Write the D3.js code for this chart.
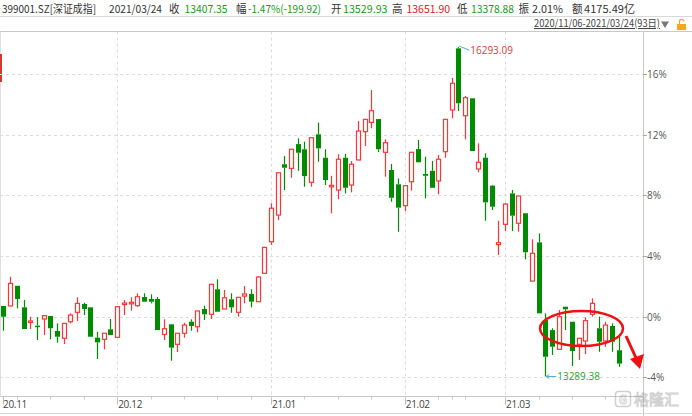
<!DOCTYPE html>
<html><head><meta charset="utf-8">
<script src="https://cdn.jsdelivr.net/npm/d3@7/dist/d3.min.js"></script>
<style>
html,body{margin:0;padding:0;background:#fff;}
svg{display:block;font-family:"Noto Sans CJK SC","Microsoft YaHei",sans-serif;}
</style></head>
<body><div id="chart"></div>
<script>
// ---- data: percent change vs base (13835) ----
const monthLabels = ["20.11","20.12","21.01","21.02","21.03"];
const monthStartIdx = [0,17,40,60,75];
const weekStartIdx = [2,7,12,17,22,27,32,37,40,45,50,55,60,65,67,69,75,80,85,90];
const yTicks = [16,12,8,4,0,-4];
const open  = [0.71,0.71,2.04,0.62,-0.33,-0.59,-0.15,0.05,-0.94,-1.42,-0.33,0.29,0.84,0.62,-1.38,-1.49,-0.83,-1.36,0.86,0.90,0.73,1.30,1.17,1.17,-1.16,-0.50,-1.82,-1.09,-0.33,-0.66,0.51,0.16,1.81,0.51,1.15,0.29,1.36,1.50,0.99,2.86,4.94,6.70,10.05,9.78,11.38,11.04,8.86,12.02,10.48,8.62,8.35,10.48,8.68,10.33,12.20,12.81,13.03,10.84,9.67,8.73,7.32,8.90,11.05,9.41,9.62,8.95,10.88,13.63,17.69,13.25,14.40,9.74,10.48,8.64,4.75,6.09,8.13,6.16,6.82,2.35,4.90,-0.22,-0.88,-2.15,0.66,-0.33,-1.82,-1.60,0.16,-0.76,-1.60,-0.61,-2.21];
const close = [0,2.20,1.17,-0.81,-0.28,-0.63,0.07,-0.76,-1.32,-0.44,0.11,0.88,0.51,-1.32,-1.69,-1.09,-1.21,0.66,0.90,0.95,1.32,0.99,0.99,-0.88,-0.79,-2.04,-1.09,-0.55,-0.61,0.38,0.16,2.14,0.33,1.25,0.62,1.28,1.50,0.99,2.62,4.57,7.15,9.49,9.82,11.04,10.81,9.27,11.80,11.10,9.01,8.66,10.38,8.50,10.05,12.24,13.01,13.58,11.04,11.47,7.84,7.19,8.64,10.84,10.18,9.29,8.50,10.38,13.01,15.39,14.07,14.44,10.92,10.18,7.54,7.25,4.88,7.43,6.66,7.96,4.25,4.18,0.22,-2.64,-1.98,0,0.49,-2.26,-1.42,-0.26,0.88,-1.65,-0.55,-1.65,-3.09];
const high  = [0.71,2.64,2.04,1.10,0,-0.04,0.07,0.05,-0.44,-0.44,0.22,1.28,0.92,0.62,-0.99,-1.09,-0.15,0.66,1.10,1.28,1.54,1.54,1.48,1.30,-0.17,-0.50,-1.09,-0.40,-0.17,0.38,0.73,2.14,2.47,1.76,1.54,1.28,2.02,1.81,2.68,4.61,7.48,9.49,10.59,11.04,11.76,11.54,11.80,12.79,11.04,9.29,10.71,10.73,10.26,12.90,13.01,14.94,13.03,11.69,10.07,9.12,8.64,10.84,11.65,10.55,10.26,10.66,13.01,15.75,17.77,14.55,14.40,11.43,10.77,8.68,6.33,7.49,8.35,7.96,6.82,5.10,5.50,0.22,-0.76,0.44,0.66,-0.33,-1.42,-0.04,1.21,0,-0.33,-0.44,-1.32];
const low   = [-0.92,0.71,0.55,-0.81,-0.81,-1.54,-1.21,-1.49,-1.71,-1.80,-0.44,-0.28,0.11,-1.32,-2.79,-2.15,-1.21,-1.36,0.11,0.40,0.66,0.99,0.88,-0.88,-1.54,-2.90,-2.33,-1.38,-0.92,-1.03,-0.22,-0.15,0.33,0.51,0.26,0,0.88,0.62,0.99,2.86,4.73,6.37,8.35,9.16,9.62,8.57,8.57,10.22,8.68,6.82,7.74,8.13,8.20,10.33,11.25,12.42,10.86,9.23,7.58,5.60,6.97,8.31,10.18,7.80,8.50,8.07,10.48,13.08,13.56,11.69,10.92,9.52,6.33,7.03,4.07,5.65,5.65,5.60,3.78,2.35,0.22,-3.94,-2.52,-2.15,-0.88,-3.25,-2.85,-2.46,0,-2.31,-1.98,-2.31,-3.30];
const maxIdx = 68, maxLabel = "16293.09";
const minIdx = 81, minLabel = "13289.38";

const W = 692, H = 416;
const plot = {left:0, right:643, top:31.5, bottom:396.5};
const UP = "#ff3535", DOWN = "#008c00";

const svg = d3.select("#chart").append("svg").attr("width",W).attr("height",H);

const x = d3.scaleBand().domain(d3.range(open.length)).range([0.97, 0.97 + 6.67*open.length]).paddingInner(0.25).paddingOuter(0);
const cx = i => x(i) + x.bandwidth()/2;
const y = d3.scaleLinear().domain([-4,16]).range([377.4, 74.0]);

// header
const hdr = svg.append("g").attr("font-size",11);
const items = [
  ["399001.SZ[深证成指]",2,"#333",94],["2021/03/24",109,"#333",53],
  ["收",169,"#333",10.5],["13407.35",184.5,"#1a9a1a",43],
  ["幅",236,"#333",10.5],["-1.47%(-199.92)",248,"#1a9a1a",73],
  ["开",331,"#333",10.5],["13529.93",343,"#1a9a1a",44.5],
  ["高",392,"#333",10.5],["13651.90",406.5,"#e02020",43.5],
  ["低",457,"#333",10.5],["13378.88",471,"#1a9a1a",43],
  ["振",518.5,"#333",10.5],["2.01%",532,"#333",31],
  ["额",572,"#333",10.5],["4175.49亿",584,"#333",51]
];
items.forEach(d=>hdr.append("text").attr("x",d[1]).attr("y",12.5).attr("fill",d[2])
  .attr("textLength",d[3]).attr("lengthAdjust","spacingAndGlyphs").text(d[0]));
svg.append("line").attr("x1",0).attr("x2",W).attr("y1",16.5).attr("y2",16.5).attr("stroke","#d8d8d8");
svg.append("text").attr("x",534).attr("y",27).attr("font-size",10.5).attr("fill","#444")
   .attr("textLength",126).attr("lengthAdjust","spacingAndGlyphs")
   .attr("text-decoration","underline").text("2020/11/06-2021/03/24(93日)");
svg.append("path").attr("d","M661,21.5 L669,21.5 L665,28 Z").attr("fill","#777");
svg.append("path").attr("d","M677,24 h9 v6 h-9 Z").attr("fill","#f5a623");
svg.append("path").attr("d","M679.5,24 v-2.5 a2.2,2.2 0 0 1 4.4,0").attr("fill","none").attr("stroke","#f5a623").attr("stroke-width",1.2);

// plot frame
svg.append("line").attr("x1",0).attr("x2",W).attr("y1",plot.top).attr("y2",plot.top).attr("stroke","#c8c8c8");
svg.append("line").attr("x1",0).attr("x2",plot.right).attr("y1",plot.bottom).attr("y2",plot.bottom).attr("stroke","#c8c8c8");
svg.append("line").attr("x1",plot.right+0.5).attr("x2",plot.right+0.5).attr("y1",plot.top).attr("y2",H).attr("stroke","#c8c8c8");
svg.append("line").attr("x1",0.5).attr("x2",0.5).attr("y1",plot.top).attr("y2",plot.bottom).attr("stroke","#e0e0e0");
svg.append("line").attr("x1",1).attr("x2",1).attr("y1",54).attr("y2",82).attr("stroke","#d33").attr("stroke-width",2);

// grid
const g = svg.append("g");
yTicks.forEach(t=>{
  g.append("line").attr("x1",0).attr("x2",plot.right).attr("y1",Math.round(y(t))+0.5).attr("y2",Math.round(y(t))+0.5)
   .attr("stroke","#dcdcdc").attr("stroke-dasharray","3,3");
  g.append("line").attr("x1",plot.right).attr("x2",plot.right+4).attr("y1",Math.round(y(t))+0.5).attr("y2",Math.round(y(t))+0.5).attr("stroke","#aaa");
  g.append("text").attr("x",plot.right+4).attr("y",y(t)+4).attr("font-size",10).attr("fill","#555")
   .attr("font-family","'Open Sans','DejaVu Sans',sans-serif").text(t+"%");
});
monthStartIdx.forEach((mi,k)=>{
  if(k>0) g.append("line").attr("x1",Math.round(cx(mi))+0.5).attr("x2",Math.round(cx(mi))+0.5).attr("y1",plot.top).attr("y2",plot.bottom)
     .attr("stroke","#dcdcdc").attr("stroke-dasharray","3,3");
  g.append("line").attr("x1",Math.round(cx(mi))+0.5).attr("x2",Math.round(cx(mi))+0.5).attr("y1",plot.bottom).attr("y2",plot.bottom+8).attr("stroke","#bbb");
  g.append("text").attr("x",k===0?3:cx(mi)+1).attr("y",408).attr("font-size",10).attr("fill","#444")
   .attr("font-family","'Open Sans','DejaVu Sans',sans-serif").attr("letter-spacing","-0.3").text(monthLabels[k]);
});
weekStartIdx.forEach(wi=>{
  g.append("line").attr("x1",Math.round(cx(wi))+0.5).attr("x2",Math.round(cx(wi))+0.5).attr("y1",plot.bottom).attr("y2",plot.bottom+3).attr("stroke","#ccc");
});
svg.append("line").attr("x1",0).attr("x2",W).attr("y1",413.5).attr("y2",413.5).attr("stroke","#d8d8d8");

// candles
const data = open.map((o,i)=>({i,o,c:close[i],h:high[i],l:low[i]}));
const cg = svg.append("g");
const bw = x.bandwidth();
data.forEach(d=>{
  const up = d.c >= d.o;
  const col = up ? UP : DOWN;
  const xc = Math.round(cx(d.i)) + 0.5;
  const yTop = y(Math.max(d.o,d.c)), yBot = y(Math.min(d.o,d.c));
  cg.append("line").attr("x1",xc).attr("x2",xc).attr("y1",y(d.h)).attr("y2",yTop).attr("stroke",col).attr("stroke-width",1.2);
  cg.append("line").attr("x1",xc).attr("x2",xc).attr("y1",yBot).attr("y2",y(d.l)).attr("stroke",col).attr("stroke-width",1.2);
  const bh = Math.max(yBot - yTop, 1.5);
  if(up){
    cg.append("rect").attr("x",xc-bw/2+0.5).attr("y",yTop).attr("width",bw-1).attr("height",bh)
      .attr("fill","#fff").attr("stroke",col).attr("stroke-width",1.2);
  } else {
    cg.append("rect").attr("x",xc-bw/2).attr("y",yTop).attr("width",bw).attr("height",bh).attr("fill",col);
  }
});

// high / low annotations
const hx = cx(maxIdx), hy = y(high[maxIdx]);
svg.append("line").attr("x1",hx+1).attr("y1",hy-1).attr("x2",hx+11).attr("y2",hy+3).attr("stroke","#5aa9d6");
svg.append("text").attr("x",hx+12).attr("y",hy+7).attr("font-size",10).attr("fill","#d9413a")
   .attr("font-family","'Open Sans','DejaVu Sans',sans-serif").text(maxLabel);
const lx = cx(minIdx), ly = y(low[minIdx]);
svg.append("line").attr("x1",lx+1).attr("y1",ly).attr("x2",lx+11).attr("y2",ly).attr("stroke","#5aa9d6");
svg.append("path").attr("d",`M${lx+1},${ly} l3,-2 M${lx+1},${ly} l3,2`).attr("stroke","#5aa9d6").attr("fill","none");
svg.append("text").attr("x",lx+12).attr("y",ly+4).attr("font-size",10).attr("fill","#2aa52a")
   .attr("font-family","'Open Sans','DejaVu Sans',sans-serif").text(minLabel);

// red ellipse + arrow
svg.append("ellipse").attr("cx",581.5).attr("cy",328.5).attr("rx",41.5).attr("ry",17.5)
   .attr("fill","none").attr("stroke","#ee1111").attr("stroke-width",2.5);
svg.append("line").attr("x1",626).attr("y1",336).attr("x2",636).attr("y2",358).attr("stroke","#ee1111").attr("stroke-width",3);
svg.append("path").attr("d","M630,359 L644,354 L640,369 Z").attr("fill","#ee1111");

// watermark
const wm = svg.append("g").attr("opacity",0.55);
wm.append("rect").attr("x",615.5).attr("y",391.5).attr("width",15).attr("height",15).attr("rx",3)
  .attr("fill","none").attr("stroke","#aaa").attr("stroke-width",1.5);
wm.append("text").attr("x",623).attr("y",403.5).attr("text-anchor","middle").attr("font-size",12).attr("font-weight","bold").attr("fill","none").attr("stroke","#aaa").attr("stroke-width",0.8).text("G");
wm.append("text").attr("x",634).attr("y",405).attr("font-size",15).attr("fill","none").attr("stroke","#aaa").attr("stroke-width",0.9).text("格隆汇");
</script></body></html>
